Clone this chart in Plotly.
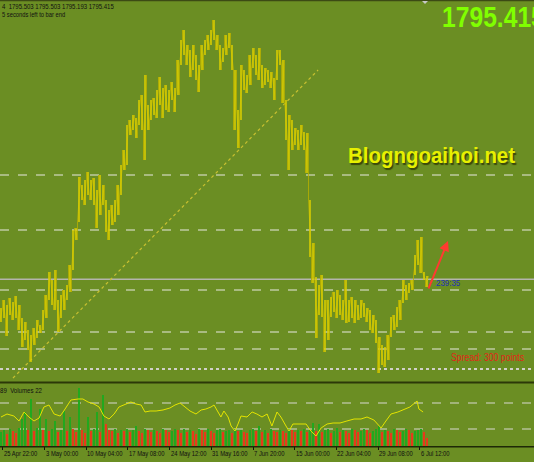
import json
import plotly.graph_objects as go

W, H = 534, 462

# ---------------- data ----------------
high = [1781, 1785, 1782.5, 1786, 1784, 1787, 1782.5, 1776, 1774, 1770,
        1767.5, 1771, 1775, 1772.5, 1780, 1787.5, 1799, 1795, 1800, 1785,
        1787.5, 1790, 1792.5, 1802.5, 1820, 1821, 1846.5, 1842.5, 1845, 1849,
        1845, 1846, 1840, 1847.5, 1842.5, 1835, 1830, 1832.5, 1835, 1842.5,
        1852.5, 1860, 1872.5, 1875, 1877.5, 1876, 1885, 1887.5, 1897.5, 1882.5,
        1885, 1886, 1890, 1896.5, 1891, 1892.5, 1890, 1894, 1891, 1905,
        1915, 1920, 1912.5, 1910, 1912.5, 1907.5, 1902.5, 1912.5, 1915, 1917.5,
        1920, 1925, 1917.5, 1912.5, 1911, 1917.5, 1918.5, 1912.5, 1900, 1880,
        1902.5, 1900, 1897.5, 1907.5, 1911, 1907.5, 1911, 1902.5, 1901, 1900,
        1899, 1896, 1910, 1910, 1905, 1885, 1877.5, 1875, 1871, 1870,
        1872.5, 1869, 1868.5, 1835, 1813.5, 1796.5, 1792.5, 1797.5, 1785, 1785,
        1786.5, 1789, 1790, 1787.5, 1785, 1795, 1785, 1786.5, 1785, 1782.5,
        1785, 1783.5, 1781, 1780, 1777.5, 1775, 1766.5, 1762.5, 1761.5, 1767.5,
        1776.5, 1777.5, 1781.5, 1785, 1795, 1792.5, 1793.5, 1795, 1807.5, 1815,
        1816.5, 1799, 1797]
low = [1774, 1776, 1767, 1777.5, 1775, 1776, 1770, 1761.5, 1765, 1760,
       1754, 1762.5, 1766, 1768.5, 1770, 1776, 1785, 1782.5, 1780, 1769,
       1776, 1780, 1785, 1789, 1800, 1815, 1824, 1835, 1832.5, 1837.5,
       1835, 1832.5, 1821, 1827.5, 1832.5, 1819, 1815, 1822.5, 1824, 1827.5,
       1837.5, 1850, 1852.5, 1867.5, 1870, 1866, 1872.5, 1870, 1855, 1870,
       1875, 1877.5, 1876, 1882.5, 1876, 1880, 1879, 1885, 1879, 1887.5,
       1902.5, 1907.5, 1902.5, 1896.5, 1900, 1895, 1889, 1900, 1907.5, 1910,
       1912.5, 1915, 1910, 1900, 1904, 1907.5, 1911, 1900, 1870, 1861,
       1875, 1890, 1888.5, 1892.5, 1901, 1897.5, 1895, 1891, 1892.5, 1894,
       1891, 1885, 1895, 1902.5, 1883.5, 1865, 1850, 1860, 1862.5, 1860,
       1862.5, 1860, 1848.5, 1806.5, 1793.5, 1766, 1777.5, 1776.5, 1759, 1765,
       1776.5, 1779, 1776, 1777.5, 1775, 1773.5, 1774, 1776, 1773.5, 1775,
       1776, 1776.5, 1774, 1770, 1768.5, 1763.5, 1748.5, 1752.5, 1751.5, 1755,
       1766.5, 1770, 1771.5, 1775, 1783.5, 1785, 1788.5, 1790, 1797.5, 1802.5,
       1798.5, 1795, 1791.5]

volumes = [14, 16, 12, 17, 15, 13, 18, 27, 34, 16, 47, 15, 18, 37, 16, 27, 15, 17, 25, 14,
           16, 35, 15, 29, 17, 14, 58, 16, 13, 29, 15, 17, 34, 14, 51, 22, 16, 15, 17, 13,
           16, 15, 17, 14, 16, 20, 15, 13, 17, 16, 14, 16, 15, 13, 17, 16, 14, 15, 17, 16,
           13, 17, 14, 16, 15, 12, 17, 16, 14, 17, 15, 13, 16, 17, 14, 15, 16, 13, 17, 15,
           16, 14, 13, 16, 17, 15, 20, 14, 16, 13, 17, 15, 14, 16, 15, 13, 17, 16, 14, 16,
           15, 17, 14, 16, 23, 15, 22, 14, 16, 17, 13, 15, 18, 14, 16, 15, 13, 17, 16, 14,
           15, 17, 16, 13, 15, 17, 20, 14, 16, 15, 13, 17, 16, 14, 15, 17, 16, 13, 15, 16,
           17, 14, 8]

vol_line_x = [0, 2, 4.3, 6, 7.7, 9.3, 11, 12.7, 14.3, 16, 17.7, 19.7, 20.7, 21.7, 23.3,
              25.7, 27.3, 29, 31, 32.7, 34.3, 36, 37.7, 39.3, 41.7, 43.3, 45, 46.7, 48,
              49.7, 51.7, 54, 56.3, 58, 59.7, 61.3, 63, 65, 66.7, 68.3, 70, 71, 72.3,
              73.3, 74.3, 75.7, 76.7, 78, 79, 80, 82, 83.7, 85.3, 87, 88.7, 90.3, 92,
              93.3, 95, 96, 97.3, 99.3, 101.7, 103.3, 105, 106.7, 108.7, 110.7, 113,
              115.3, 117.7, 120, 122, 124.3, 126.7, 128.3, 130, 132.3, 134.7, 136.3,
              138.7, 139.3, 140.7]
vol_line_y = [29, 32, 30, 25, 34, 29, 25, 28, 39, 41, 32, 30, 34, 39, 46,
              47, 47, 44, 42, 39, 30, 27, 32, 39, 42, 44, 42, 41, 34,
              35, 35, 36, 38, 41, 43, 39, 35, 32, 36, 37, 39, 41, 34,
              29, 35, 29, 20, 15, 22, 30, 29, 34, 32, 29, 32, 20, 34,
              29, 20, 15, 22, 22, 22, 15, 10, 18, 22, 23, 23,
              25, 27, 27, 29, 26, 18, 25, 32, 34, 37, 39,
              45, 37, 34]

levels = [1847.5, 1820, 1790, 1769, 1760.5]
level_strong = 1750.5
bid = 1795.415
trend_x = [4, 105.7]
trend_y = [1746, 1900]
vol_levels = [43, 17]

tick_pos = [0.6, 14.5, 28.4, 42.3, 56.2, 70.1, 84.0, 97.9, 111.8, 125.7, 139.6]
tick_text = ["25 Apr 22:00", "3 May 00:00", "10 May 04:00", "17 May 08:00",
             "24 May 12:00", "31 May 16:00", "7 Jun 20:00", "15 Jun 00:00",
             "22 Jun 04:00", "29 Jun 08:00", "6 Jul 12:00"]

arrow_from = (142.3, 1790)
arrow_to = (149, 1814.5)

# ---------------- figure ----------------
BG = "#6b8e23"
FONT = "Liberation Sans, Arial, sans-serif"

def px(x):
    return x / W

def py(y):
    return 1 - y / H

# bar-chart style: one vertical stroke per bar (high to low)
bar_x, bar_y = [], []
for i, (h, l) in enumerate(zip(high, low)):
    bar_x += [i, i, None]
    bar_y += [l, h, None]
# thin connecting path between consecutive bars
link_x, link_y = [], []
for i, (h, l) in enumerate(zip(high, low)):
    link_x += [i - 0.5, i + 0.5]
    link_y += [l, h] if i % 2 == 0 else [h, l]

vol_colors = ["#22a81e" if i == 0 or v > volumes[i - 1] else "#e63a1a"
              for i, v in enumerate(volumes)]

fig = go.Figure()
fig.add_trace(go.Scatter(x=trend_x, y=trend_y, mode="lines",
                         line=dict(color="#c8c030", width=1.2, dash="dot"),
                         xaxis="x", yaxis="y", hoverinfo="skip"))
fig.add_trace(go.Scatter(x=link_x, y=link_y, mode="lines",
                         line=dict(color="#b8b000", width=0.8),
                         xaxis="x", yaxis="y", hoverinfo="skip"))
fig.add_trace(go.Scatter(x=bar_x, y=bar_y, mode="lines", connectgaps=False,
                         line=dict(color="#dccf00", width=1.5),
                         xaxis="x", yaxis="y"))
fig.add_trace(go.Bar(x=list(range(len(volumes))), y=volumes, width=0.6,
                     marker=dict(color=vol_colors, line=dict(width=0)),
                     xaxis="x2", yaxis="y2"))
fig.add_trace(go.Scatter(x=vol_line_x, y=vol_line_y, mode="lines",
                         line=dict(color="#e4e400", width=1),
                         xaxis="x2", yaxis="y2"))

shapes = []
for lv in levels:
    shapes.append(dict(type="line", xref="paper", x0=0, x1=1, yref="y", y0=lv, y1=lv,
                       line=dict(color="#e8e8e0", width=1, dash="dash"), layer="below"))
shapes.append(dict(type="line", xref="paper", x0=0, x1=1, yref="y", y0=level_strong, y1=level_strong,
                   line=dict(color="#d0d0c8", width=2, dash="dot"), layer="below"))
shapes.append(dict(type="line", xref="paper", x0=0, x1=1, yref="y", y0=bid, y1=bid,
                   line=dict(color="#b4b4ac", width=1.5), layer="below"))
for lv in vol_levels:
    shapes.append(dict(type="line", xref="paper", x0=0, x1=1, yref="y2", y0=lv, y1=lv,
                       line=dict(color="#d8d8d0", width=1, dash="dash"), layer="below"))
shapes.append(dict(type="line", xref="paper", yref="paper", x0=0, x1=1, y0=py(0.5), y1=py(0.5),
                   line=dict(color="#3c4a14", width=1.5)))
shapes.append(dict(type="line", xref="paper", yref="paper", x0=0, x1=1, y0=py(382.5), y1=py(382.5),
                   line=dict(color="#2c3808", width=2)))
shapes.append(dict(type="line", xref="paper", yref="paper", x0=0, x1=1, y0=py(446.8), y1=py(446.8),
                   line=dict(color="#1e2806", width=1.5)))
shapes.append(dict(type="path", xref="paper", yref="paper",
                   path=f"M {px(422)} {py(1)} L {px(428)} {py(1)} L {px(425)} {py(4)} Z",
                   fillcolor="#c8c8c8", line=dict(width=0)))

ann = []
squeeze = []

def add_text(text, x, y, size, color, factor, bold=False, shadow=None):
    font = dict(family=FONT, size=size, color=color, weight="bold" if bold else "normal")
    if shadow:
        font["shadow"] = shadow
    ann.append(dict(text=text, x=px(x), y=py(y), xref="paper", yref="paper",
                    xanchor="left", yanchor="middle", align="left", showarrow=False,
                    borderpad=0, font=font))
    squeeze.append(factor)

add_text("4  1795.503 1795.503 1795.193 1795.415", 1, 6, 8, "#111111", 0.75)
add_text("5 seconds left to bar end", 1, 15, 8, "#111111", 0.72)
add_text("1795.415", 441, 17.5, 29, "#80ff00", 0.85, bold=True)
add_text("Blogngoaihoi.net", 347, 155, 22, "#e8f000", 0.93, bold=True,
         shadow="1.5px 1.5px 1px #3a4808")
add_text("-  239:35", 428, 283, 9, "#2430b8", 0.88)
add_text("Spread: 300 points", 450, 357, 10, "#e02818", 0.87)
add_text("89  Volumes 22", -1, 390, 8, "#111111", 0.76)

ann.append(dict(x=arrow_to[0], y=arrow_to[1], ax=arrow_from[0], ay=arrow_from[1],
                xref="x", yref="y", axref="x", ayref="y", text="",
                showarrow=True, arrowhead=2, arrowsize=1, arrowwidth=2,
                arrowcolor="#ff3a30"))
squeeze.append(1)
for tp, tt in zip(tick_pos, tick_text):
    ann.append(dict(text=tt, x=tp, xref="x2", y=py(453.5), yref="paper",
                    xanchor="left", align="left", xshift=0, yanchor="middle",
                    showarrow=False, borderpad=0,
                    font=dict(family=FONT, size=6.8, color="#111111")))
    squeeze.append(0.86)

xr = [-1 / 3, 533 / 3]
fig.update_layout(
    width=W, height=H, margin=dict(l=0, r=0, t=0, b=0, pad=0),
    paper_bgcolor=BG, plot_bgcolor=BG, showlegend=False,
    bargap=0,
    xaxis=dict(domain=[0, 1], range=xr, anchor="y", visible=False, fixedrange=True),
    yaxis=dict(domain=[py(380), 1], range=[1745, 1935], visible=False, fixedrange=True),
    xaxis2=dict(domain=[0, 1], range=xr, anchor="y2", showgrid=False, zeroline=False,
                showticklabels=False, ticks="outside", ticklen=3, tickcolor="#111111",
                tickwidth=1, tickvals=tick_pos, showline=False, fixedrange=True),
    yaxis2=dict(domain=[py(446), py(384)], range=[0, 62], visible=False, fixedrange=True),
    shapes=shapes, annotations=ann,
)

post = """
document.documentElement.style.margin='0';
document.body.style.margin='0';
document.body.style.padding='0';
document.body.style.overflow='hidden';
var SQ = %s;
var gd = document.getElementById('{plot_id}');
function squeezeText(){
  gd.querySelectorAll('g.annotation').forEach(function(g){
    var idx = parseInt(g.getAttribute('data-index'));
    var f = SQ[idx];
    if (!f || f === 1) return;
    var t = g.querySelector('text.annotation-text');
    if (!t) return;
    t.removeAttribute('textLength');
    var L = t.getComputedTextLength();
    if (L > 0) {
      t.setAttribute('textLength', (L * f).toFixed(2));
      t.setAttribute('lengthAdjust', 'spacingAndGlyphs');
    }
  });
}
squeezeText();
if (gd.on) gd.on('plotly_afterplot', squeezeText);
""" % json.dumps(squeeze)

fig.write_html("out.html", post_script=post, config={"displayModeBar": False})
